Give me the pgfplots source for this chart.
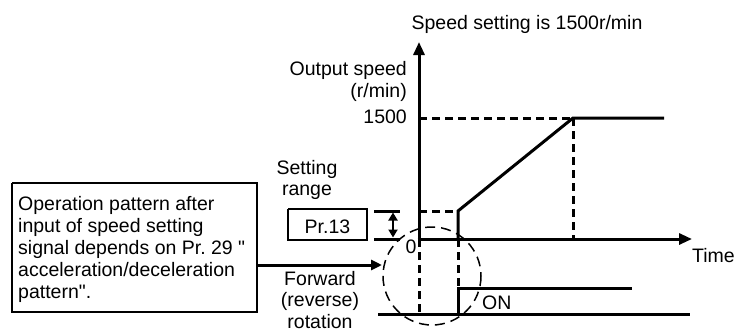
\documentclass[border=0pt]{standalone}
\usepackage{fontspec}
\setmainfont{Liberation Sans}
\newfontfamily\qf{Liberation Sans}
\usepackage{pgfplots}
\pgfplotsset{compat=1.18}
\usetikzlibrary{arrows.meta}
\tikzset{ln/.style={black, solid, line width=3pt, line cap=butt, line join=miter},
  dsh/.style={ln, dash pattern=on 8pt off 5pt},
  lbl/.style={font=\fontsize{19.5}{22}\selectfont, inner sep=0pt, anchor=base}}
\frenchspacing
\begin{document}
\begin{tikzpicture}
\begin{axis}[width=739pt,height=332pt,scale only axis,
  xmin=0,xmax=739,ymin=0,ymax=332,y dir=reverse,
  hide axis, clip=false,
  cycle list={{black,mark=none}}]
% dashed circle (annotation)
\draw[black, line width=1.5pt, dash pattern=on 10pt off 6pt] (axis cs:432,276) circle[radius=49];
% axes
\addplot[ln,mark=none,-{Triangle[length=13pt,width=11pt]}] coordinates {(419,240.5) (419,42)};
\addplot[ln,mark=none,-{Triangle[length=13pt,width=11pt]}] coordinates {(417.5,239) (692,239)};
% output speed
\addplot[ln,mark=none] coordinates {(458,240.5) (458,211) (573,118) (664,118)};
% dashed guide lines
\addplot[dsh,mark=none] coordinates {(419,118) (573,118)};
\addplot[dsh,mark=none] coordinates {(573,118) (573,239)};
\addplot[dsh,mark=none] coordinates {(419,211) (458,211)};
\addplot[dsh,mark=none] coordinates {(419,239) (419,314)};
\addplot[dsh,mark=none] coordinates {(458,239) (458,289)};
% ON signal
\addplot[ln,mark=none] coordinates {(378,314) (690,314)};
\addplot[ln,mark=none] coordinates {(458,314) (458,288) (632,288)};
% setting range marks
\addplot[ln,mark=none] coordinates {(374,211) (400,211)};
\addplot[ln,mark=none] coordinates {(374,239) (400,239)};
\addplot[ln,mark=none,line width=2.5pt,{Triangle[length=8pt,width=9pt]}-{Triangle[length=8pt,width=9pt]}] coordinates {(393,212.5) (393,237.5)};
% boxes
\addplot[ln,mark=none,line width=2pt] coordinates {(12,183) (257,183) (257,312) (12,312) (12,183)};
\addplot[ln,mark=none,line width=2pt] coordinates {(288,209) (367,209) (367,240) (288,240) (288,209)};
% arrow from box
\addplot[ln,mark=none,-{Triangle[length=11pt,width=10pt]}] coordinates {(257,265) (382,265)};
% texts
\node[lbl] at (axis cs:527,29) {Speed setting is 1500r/min};
\node[lbl,anchor=base east] at (axis cs:407,75) {Output speed};
\node[lbl,anchor=base east] at (axis cs:407,97) {(r/min)};
\node[lbl,anchor=base east] at (axis cs:407,123) {1500};
\node[lbl] at (axis cs:307,174) {Setting};
\node[lbl] at (axis cs:307,195) {range};
\node[lbl] at (axis cs:327.5,233) {Pr.13};
\node[lbl] at (axis cs:411,253) {0};
\node[lbl,anchor=base west] at (axis cs:692,262) {Time};
\node[lbl,anchor=base west] at (axis cs:482,309) {ON};
\node[lbl] at (axis cs:320,285) {Forward};
\node[lbl] at (axis cs:320,306) {(reverse)};
\node[lbl] at (axis cs:320,328) {rotation};
\node[lbl,anchor=base west] at (axis cs:18,210) {Operation pattern after};
\node[lbl,anchor=base west] at (axis cs:18,232) {input of speed setting};
\node[lbl,anchor=base west] at (axis cs:18,254) {signal depends on Pr.\ 29 {\qf"}};
\node[lbl,anchor=base west] at (axis cs:18,276) {acceleration/deceleration};
\node[lbl,anchor=base west] at (axis cs:18,298) {pattern{\qf"}.};
\end{axis}
\pgfresetboundingbox
\path[use as bounding box] (current axis.south west) rectangle (current axis.north east);
\end{tikzpicture}
\end{document}
